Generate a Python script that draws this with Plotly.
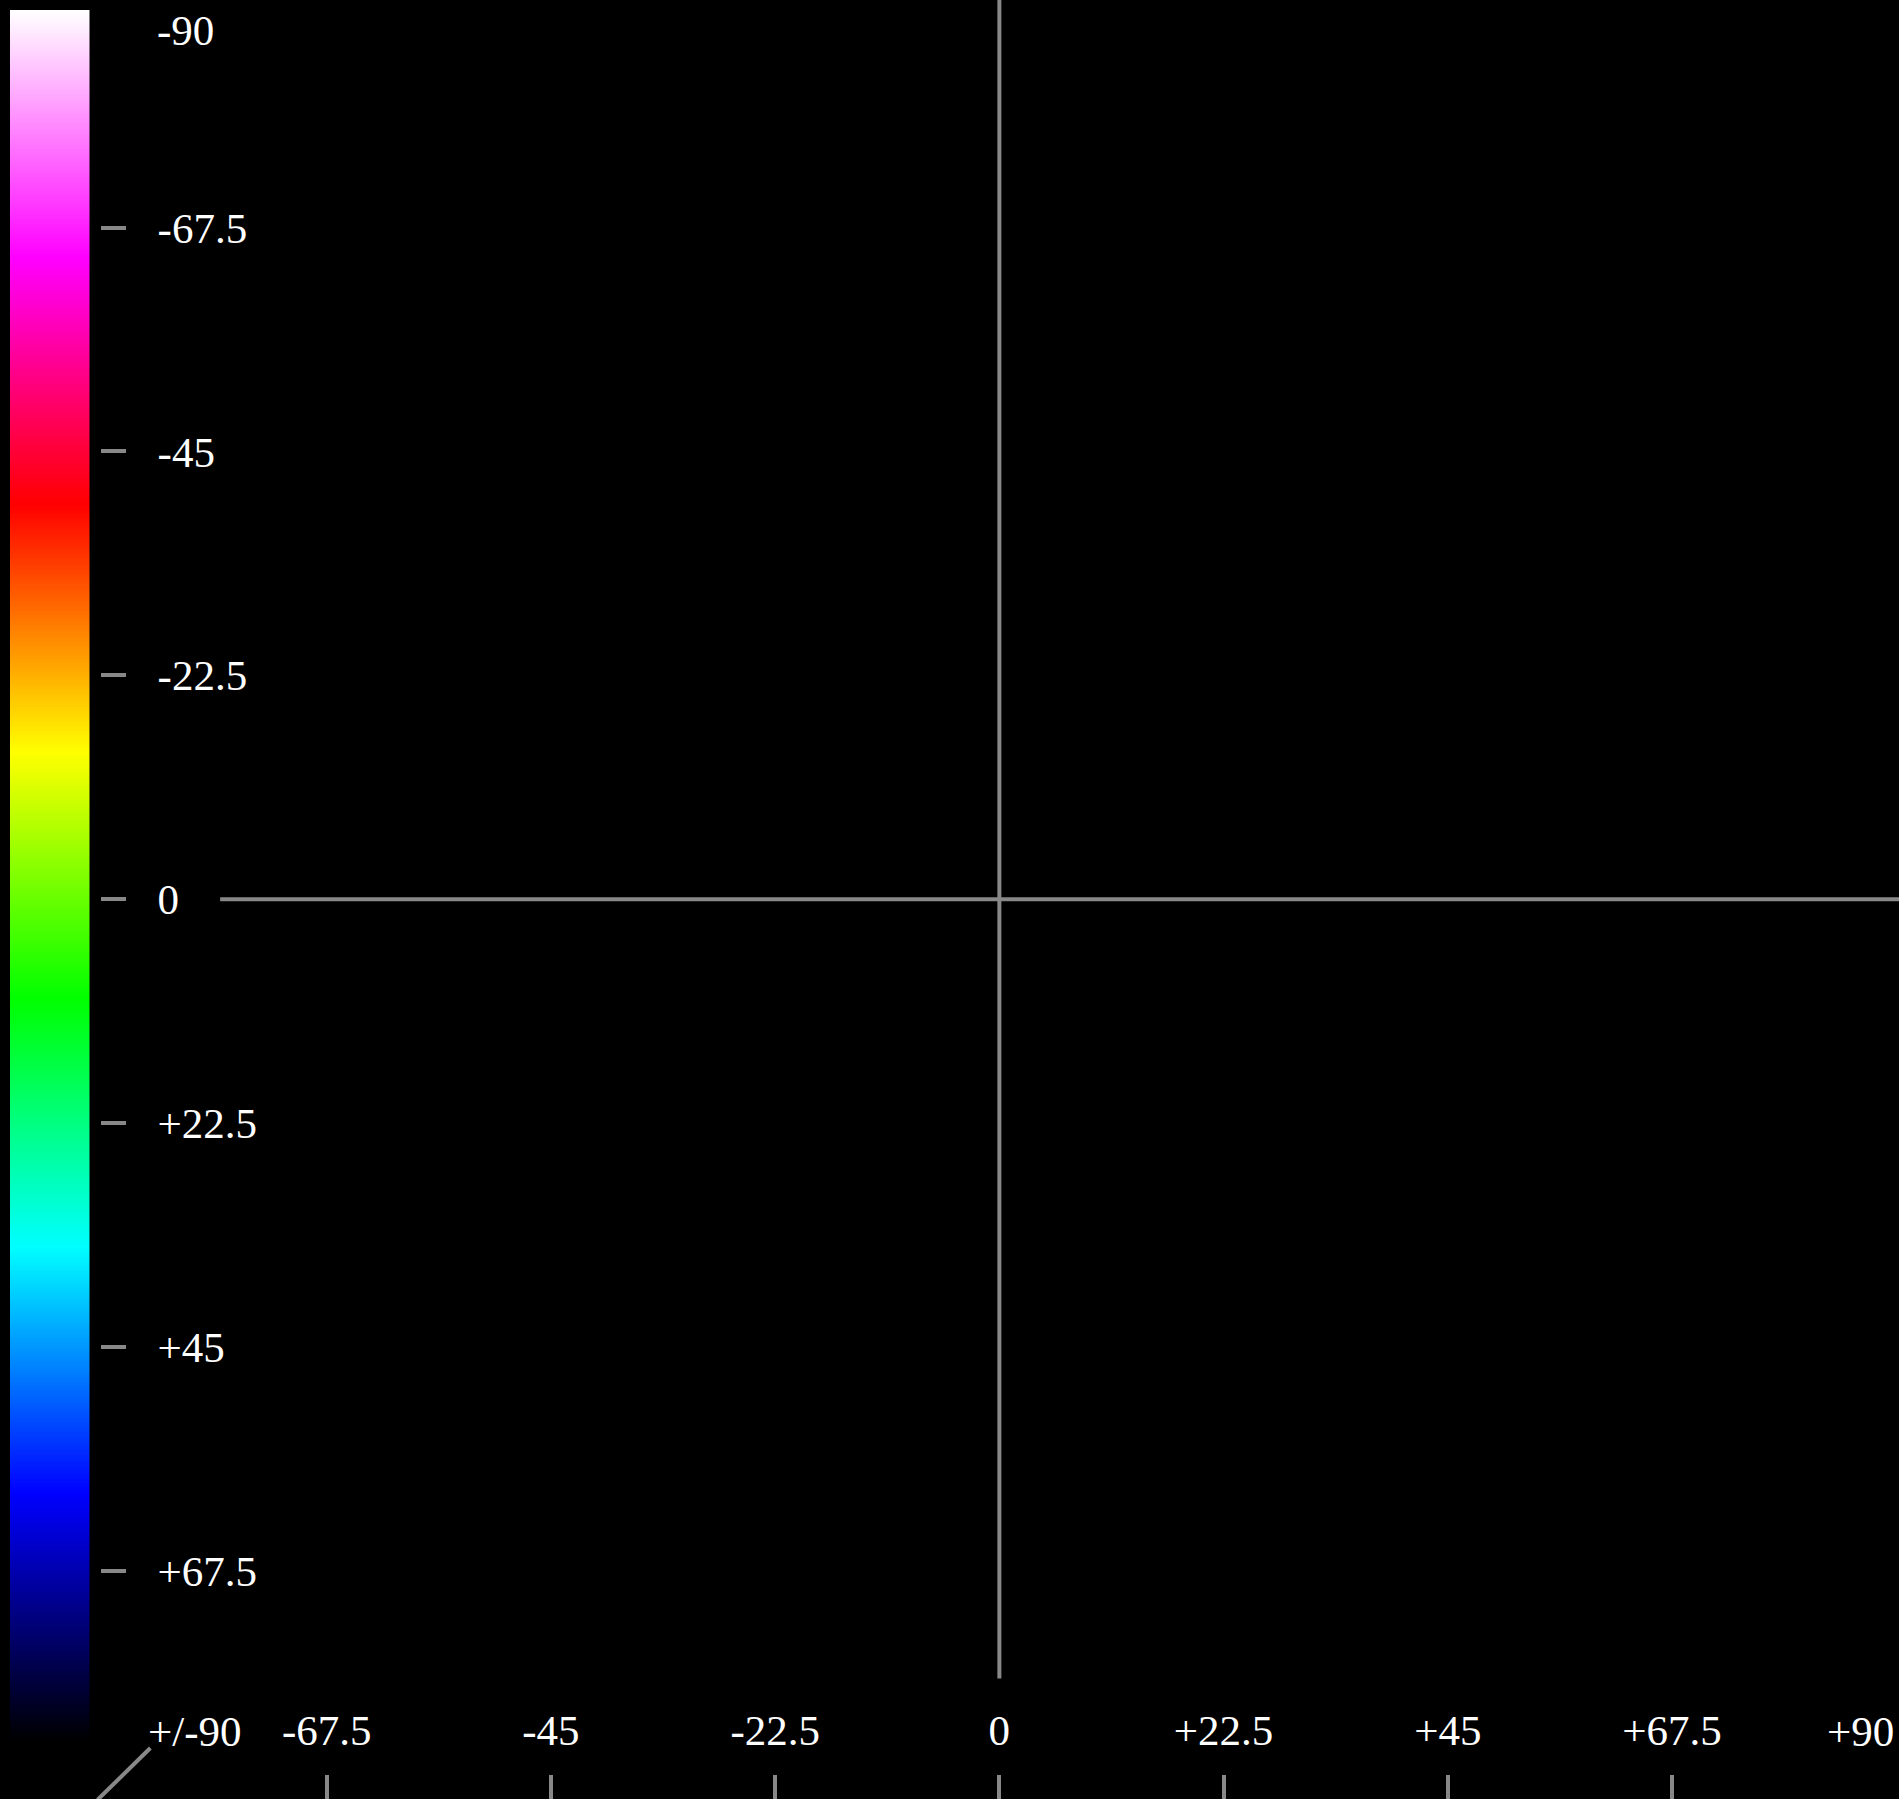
import numpy as np
import plotly.graph_objects as go

# ---- data -------------------------------------------------------------
angle_ticks = [-67.5, -45, -22.5, 0, 22.5, 45, 67.5]
angle_labels = ["-67.5", "-45", "-22.5", "0", "+22.5", "+45", "+67.5"]
angle_min, angle_max = -90, 90
end_labels = {"colorbar_top": "-90", "x_left": "+/-90", "x_right": "+90"}

scale_colors = ["#ffffff", "#ff00ff", "#ff0000", "#ffff00",
                "#00ff00", "#00ffff", "#0000ff", "#000000"]
scale_values = np.linspace(angle_min, angle_max, 721)

# reference (cross) lines in data units
hline_y, hline_x = 0, [-78.2, 90.4]
vline_x, vline_y = 0, [-90.5, 78.3]
diag_x, diag_y = [-90.5, -85.2], [90.5, 85.3]

# ---- styling ----------------------------------------------------------
W, H = 1899, 1799
FONT = dict(family="Liberation Serif, Times New Roman, serif", size=43, color="#ffffff")
GRAY = "#888888"
LW = 4

def px_x(p):
    return p / W

def px_y(p):
    return 1 - p / H

colorscale = [[i / (len(scale_colors) - 1), c] for i, c in enumerate(scale_colors)]

fig = go.Figure()

# colour bar drawn as a heatmap strip
fig.add_trace(go.Heatmap(
    z=[[v] for v in scale_values], y=scale_values, x=[0],
    colorscale=colorscale, zmin=angle_min, zmax=angle_max,
    showscale=False, hoverinfo="skip", xaxis="x2", yaxis="y2",
))
# empty trace so the main subplot exists
fig.add_trace(go.Scatter(x=[], y=[], xaxis="x", yaxis="y", showlegend=False))

fig.update_layout(
    width=W, height=H,
    margin=dict(l=0, r=0, t=0, b=0, pad=0),
    paper_bgcolor="#000000", plot_bgcolor="#000000",
    font=FONT, showlegend=False,
    xaxis=dict(
        domain=[0, 1], range=[-100.29, 90.28],
        side="top", anchor="free", position=px_y(1774),
        tickvals=angle_ticks, ticktext=angle_labels,
        ticks="inside", ticklen=25, tickwidth=LW, tickcolor=GRAY,
        ticklabelstandoff=20,
        showgrid=False, zeroline=False, showline=False, tickfont=FONT,
    ),
    yaxis=dict(
        domain=[0, 1], range=[90.42, -90.37],
        side="right", anchor="free", position=px_x(100),
        tickvals=angle_ticks, ticktext=angle_labels,
        ticks="outside", ticklen=25, tickwidth=LW, tickcolor=GRAY,
        ticklabelstandoff=23,
        showgrid=False, zeroline=False, showline=False, tickfont=FONT,
    ),
    xaxis2=dict(domain=[px_x(10), px_x(89.5)], anchor="y2", visible=False),
    yaxis2=dict(domain=[px_y(1742), px_y(10)], anchor="x2",
                autorange="reversed", visible=False),
)

line_style = dict(color=GRAY, width=LW)
fig.add_shape(type="line", xref="x", yref="y", x0=hline_x[0], x1=hline_x[1],
              y0=hline_y, y1=hline_y, line=line_style)
fig.add_shape(type="line", xref="x", yref="y", x0=vline_x, x1=vline_x,
              y0=vline_y[0], y1=vline_y[1], line=line_style)
fig.add_shape(type="line", xref="x", yref="y", x0=diag_x[0], x1=diag_x[1],
              y0=diag_y[0], y1=diag_y[1], line=line_style)

fig.add_annotation(text=end_labels["colorbar_top"], xref="paper", yref="y",
                   x=px_x(155), y=angle_min, xanchor="left", yanchor="middle",
                   yshift=-27, showarrow=False, font=FONT)
fig.add_annotation(text=end_labels["x_left"], xref="x", yref="y",
                   x=angle_min, y=angle_max, xanchor="center", yanchor="middle",
                   xshift=92, yshift=63, showarrow=False, font=FONT)
fig.add_annotation(text=end_labels["x_right"], xref="x", yref="y",
                   x=angle_max, y=angle_max, xanchor="right", yanchor="middle",
                   xshift=0, yshift=63, showarrow=False, font=FONT)

fig.write_html("out.html")
